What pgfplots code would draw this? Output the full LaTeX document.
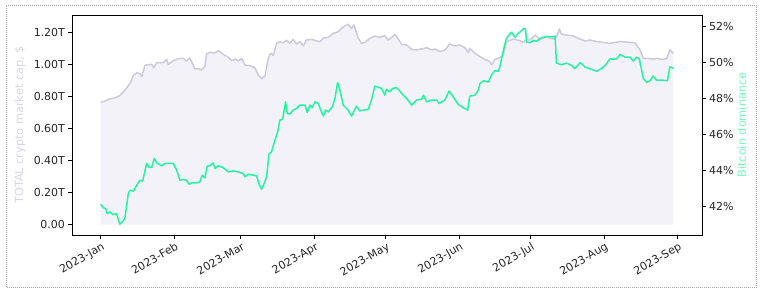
\documentclass[border=0pt]{standalone}
\usepackage{fontspec}
\setmainfont{DejaVu Sans}
\usepackage{pgfplots}
\pgfplotsset{compat=1.18}
\definecolor{lav}{RGB}{205,202,222}
\definecolor{lavfill}{RGB}{243,242,248}
\definecolor{lavtext}{RGB}{216,213,230}
\definecolor{btc}{RGB}{36,244,160}
\definecolor{btctext}{RGB}{120,246,190}
\definecolor{ticktext}{RGB}{38,38,38}
\pgfplotsset{
  commonstyle/.style={
    at={(0pt,0pt)}, anchor=south west,
    width=630pt, height=220pt, scale only axis,
    xmin=-12.06, xmax=253.3,
    tick align=outside,
    major tick length=3.5pt,
    every tick/.style={black, line width=0.8pt},
    tick label style={font=\fontsize{11}{13}\selectfont, text=ticktext},
    /pgf/number format/assume math mode=true,
  }
}
\begin{document}
\begin{tikzpicture}
\begin{axis}[commonstyle, name=ax,
  ymin=-0.065, ymax=1.308,
  axis line style={black, line width=0.8pt},
  xtick pos=left, ytick pos=left,
  xtick={0,31,59,90,120,151,181,212,243},
  xticklabels={2023-Jan,2023-Feb,2023-Mar,2023-Apr,2023-May,2023-Jun,2023-Jul,2023-Aug,2023-Sep},
  xticklabel style={rotate=30, anchor=north east, inner sep=1pt, yshift=-2pt},
  ytick={0,0.2,0.4,0.6,0.8,1.0,1.2},
  yticklabels={0.00,0.20T,0.40T,0.60T,0.80T,1.00T,1.20T},
  ylabel={TOTAL crypto market cap, \$},
  ylabel style={at={(axis description cs:-0.0825,0.5)}, rotate=0, anchor=center, text=lavtext, font=\fontsize{11.3}{13}\selectfont},
]
\addplot[fill=lavfill, draw=none] coordinates {
(0,0.762)(1.8,0.771)(4,0.785)(6,0.79)(8,0.804)(10,0.835)(12.4,0.881)(13.8,0.931)(15.2,0.948)(16.6,0.942)(17.3,0.923)(18.7,0.994)(20,0.998)(21.5,1.0)(22.3,0.979)(23.6,1.01)(26.4,1.01)(27.8,1.031)(28.5,1.0)(30.6,1.023)(32.7,1.035)(34.8,1.038)(36.2,1.021)(37.6,1.04)(38.3,1.017)(39.7,0.971)(41.1,0.975)(42.5,0.965)(43.9,0.985)(44.6,1.065)(46,1.075)(48.1,1.071)(49.6,1.085)(51.7,1.062)(53.8,1.044)(55.2,1.023)(56.6,1.033)(58,1.021)(59.4,1.037)(60.8,0.996)(62.9,0.992)(65,0.979)(66.4,0.933)(67.8,0.91)(69.2,0.927)(70.6,1.037)(71.6,1.069)(72.7,1.056)(74.1,1.131)(75.5,1.142)(76.9,1.135)(78.3,1.15)(79.7,1.131)(81.1,1.156)(82.5,1.127)(83.9,1.142)(85.3,1.115)(86.7,1.152)(88.9,1.156)(91,1.146)(92.4,1.142)(93.8,1.163)(95.9,1.169)(98,1.194)(100.1,1.204)(102.2,1.235)(104.3,1.25)(105.7,1.223)(106.7,1.246)(108.5,1.163)(109.9,1.131)(111.3,1.137)(113.4,1.163)(115.5,1.177)(117.6,1.169)(119.7,1.179)(121.1,1.152)(122.5,1.167)(123.9,1.187)(124.6,1.175)(126.8,1.125)(128.9,1.121)(131,1.094)(133.1,1.09)(135.2,1.096)(137.3,1.104)(139.4,1.09)(140.8,1.096)(142.9,1.079)(145,1.09)(147.1,1.127)(149.2,1.115)(151.3,1.121)(153.4,1.104)(154.9,1.075)(155.5,1.1)(157.7,1.069)(159.8,1.048)(161.9,1.031)(164,1.017)(164.7,0.996)(166.1,1.031)(168.2,1.042)(169.6,1.058)(171,1.142)(173.8,1.158)(176.6,1.148)(178,1.137)(179.4,1.156)(180.8,1.152)(183,1.183)(185.1,1.156)(187.8,1.169)(190.6,1.158)(192,1.169)(193.2,1.221)(194.1,1.19)(196.3,1.183)(199.1,1.177)(201.9,1.158)(204,1.146)(206.1,1.152)(209,1.142)(211.8,1.137)(214.5,1.131)(216.6,1.137)(218.8,1.142)(220.9,1.14)(223,1.137)(225,1.135)(227.2,1.09)(228.6,1.037)(230.6,1.037)(232.7,1.033)(234.1,1.037)(236.3,1.031)(238.4,1.035)(239.8,1.09)(241.2,1.069)
} \closedcycle;
\addplot[color=lav, line width=1.5pt, line join=round] coordinates {
(0,0.762)(1.8,0.771)(4,0.785)(6,0.79)(8,0.804)(10,0.835)(12.4,0.881)(13.8,0.931)(15.2,0.948)(16.6,0.942)(17.3,0.923)(18.7,0.994)(20,0.998)(21.5,1.0)(22.3,0.979)(23.6,1.01)(26.4,1.01)(27.8,1.031)(28.5,1.0)(30.6,1.023)(32.7,1.035)(34.8,1.038)(36.2,1.021)(37.6,1.04)(38.3,1.017)(39.7,0.971)(41.1,0.975)(42.5,0.965)(43.9,0.985)(44.6,1.065)(46,1.075)(48.1,1.071)(49.6,1.085)(51.7,1.062)(53.8,1.044)(55.2,1.023)(56.6,1.033)(58,1.021)(59.4,1.037)(60.8,0.996)(62.9,0.992)(65,0.979)(66.4,0.933)(67.8,0.91)(69.2,0.927)(70.6,1.037)(71.6,1.069)(72.7,1.056)(74.1,1.131)(75.5,1.142)(76.9,1.135)(78.3,1.15)(79.7,1.131)(81.1,1.156)(82.5,1.127)(83.9,1.142)(85.3,1.115)(86.7,1.152)(88.9,1.156)(91,1.146)(92.4,1.142)(93.8,1.163)(95.9,1.169)(98,1.194)(100.1,1.204)(102.2,1.235)(104.3,1.25)(105.7,1.223)(106.7,1.246)(108.5,1.163)(109.9,1.131)(111.3,1.137)(113.4,1.163)(115.5,1.177)(117.6,1.169)(119.7,1.179)(121.1,1.152)(122.5,1.167)(123.9,1.187)(124.6,1.175)(126.8,1.125)(128.9,1.121)(131,1.094)(133.1,1.09)(135.2,1.096)(137.3,1.104)(139.4,1.09)(140.8,1.096)(142.9,1.079)(145,1.09)(147.1,1.127)(149.2,1.115)(151.3,1.121)(153.4,1.104)(154.9,1.075)(155.5,1.1)(157.7,1.069)(159.8,1.048)(161.9,1.031)(164,1.017)(164.7,0.996)(166.1,1.031)(168.2,1.042)(169.6,1.058)(171,1.142)(173.8,1.158)(176.6,1.148)(178,1.137)(179.4,1.156)(180.8,1.152)(183,1.183)(185.1,1.156)(187.8,1.169)(190.6,1.158)(192,1.169)(193.2,1.221)(194.1,1.19)(196.3,1.183)(199.1,1.177)(201.9,1.158)(204,1.146)(206.1,1.152)(209,1.142)(211.8,1.137)(214.5,1.131)(216.6,1.137)(218.8,1.142)(220.9,1.14)(223,1.137)(225,1.135)(227.2,1.09)(228.6,1.037)(230.6,1.037)(232.7,1.033)(234.1,1.037)(236.3,1.031)(238.4,1.035)(239.8,1.09)(241.2,1.069)
};
\end{axis}
\begin{axis}[commonstyle,
  ymin=40.44, ymax=52.65,
  axis x line=none,
  axis y line*=right,
  y axis line style={black, line width=0.8pt, -},
  ytick={42,44,46,48,50,52},
  yticklabels={42\%,44\%,46\%,48\%,50\%,52\%},
  ylabel={Bitcoin dominance},
  ylabel style={at={(axis description cs:1.063,0.5)}, rotate=0, anchor=center, text=btctext, font=\fontsize{11.3}{13}\selectfont},
]
\addplot[color=btc, line width=1.5pt, line join=round] coordinates {
(0,42.15)(1.1,41.96)(2.2,41.89)(2.8,41.63)(3.9,41.72)(5.3,41.57)(6.7,41.63)(8.1,41.04)(9.5,41.22)(10.2,41.35)(11.7,42.78)(12.6,42.93)(13.8,42.87)(15.2,43.2)(16.6,43.48)(17.7,43.44)(19.4,44.41)(20.4,44.19)(21.5,44.19)(22.6,44.69)(23.6,44.44)(25.7,44.28)(27.1,44.41)(30.6,44.41)(32,44.04)(33.4,43.48)(34.8,43.52)(36.2,43.48)(37.2,43.26)(38.3,43.33)(40.4,43.33)(41.8,43.39)(42.8,43.76)(43.9,43.61)(44.9,44.26)(46,44.28)(47.4,44.44)(48.2,44.13)(49.6,44.28)(51.7,44.17)(53.8,43.94)(55.9,44.0)(58,43.94)(60.1,43.85)(60.8,43.67)(62.2,43.81)(64.3,43.76)(65.7,43.72)(66.8,43.24)(67.8,42.98)(69.2,43.39)(69.9,43.67)(70.9,44.93)(72,45.06)(73.4,45.7)(74.6,46.17)(75.5,46.81)(76.7,46.89)(77.9,47.83)(78.6,47.19)(79.7,47.15)(81.1,47.37)(82.5,47.46)(83.9,47.65)(86.1,47.65)(87,47.24)(88.2,47.65)(89.1,47.5)(90.3,47.83)(91.7,47.74)(92.7,47.37)(93.8,47.04)(94.8,47.37)(95.9,47.28)(97.6,47.56)(98.7,48.02)(99.8,48.89)(100.8,48.48)(102.2,47.65)(104.3,47.37)(105.7,47.04)(107.8,47.59)(109.2,47.33)(110.6,47.37)(112.7,47.41)(114.1,47.93)(115.5,48.7)(117.2,48.63)(118.3,48.57)(119.7,48.2)(120.4,48.52)(121.8,48.39)(123,48.57)(124.4,48.63)(125.4,48.52)(127.5,48.2)(128.9,48.02)(131,47.65)(133.1,47.93)(135.2,47.98)(136,48.2)(137.3,47.83)(139.4,47.93)(141.5,47.93)(142.6,47.74)(145,47.93)(146.8,48.43)(148.5,48.11)(150.6,47.69)(152.8,47.5)(154.6,47.37)(155.5,48.15)(157.7,48.2)(159.1,48.48)(159.8,48.85)(161.2,49.0)(163.3,48.93)(164.7,49.33)(166.1,49.57)(167.5,49.52)(168.2,49.8)(169.6,50.67)(170.7,51.26)(171.7,51.5)(173.1,51.69)(174.5,51.41)(175.9,51.63)(177.3,51.78)(178.3,51.91)(179,51.87)(179.4,51.15)(180.8,51.11)(182.2,51.24)(183.6,51.2)(185.7,51.39)(187.8,51.46)(190,51.43)(191.4,51.48)(192,49.98)(194.1,49.89)(196.3,49.98)(198.4,49.85)(199.8,49.67)(201.9,50.0)(202.6,49.94)(204,49.76)(206.8,49.63)(209,49.52)(211.8,49.76)(213.1,49.94)(214.5,50.22)(215.9,50.19)(217.4,50.22)(218.8,50.46)(220.9,50.31)(223,50.31)(224.4,50.09)(225.8,50.31)(226.9,50.22)(228.6,49.13)(230,48.91)(231.4,49.0)(232.7,49.26)(234.1,49.04)(236.3,49.04)(238.7,49.0)(239.8,49.78)(241.2,49.69)
};
\end{axis}
\pgfresetboundingbox
\path[use as bounding box] ([shift={(-72pt,-57pt)}]ax.south west) rectangle ([shift={(60pt,15pt)}]ax.north east);
\draw[black!35, densely dotted, line width=1pt] ([shift={(-65.5pt,-52pt)}]ax.south west) rectangle ([shift={(54.5pt,9pt)}]ax.north east);
\end{tikzpicture}
\end{document}
